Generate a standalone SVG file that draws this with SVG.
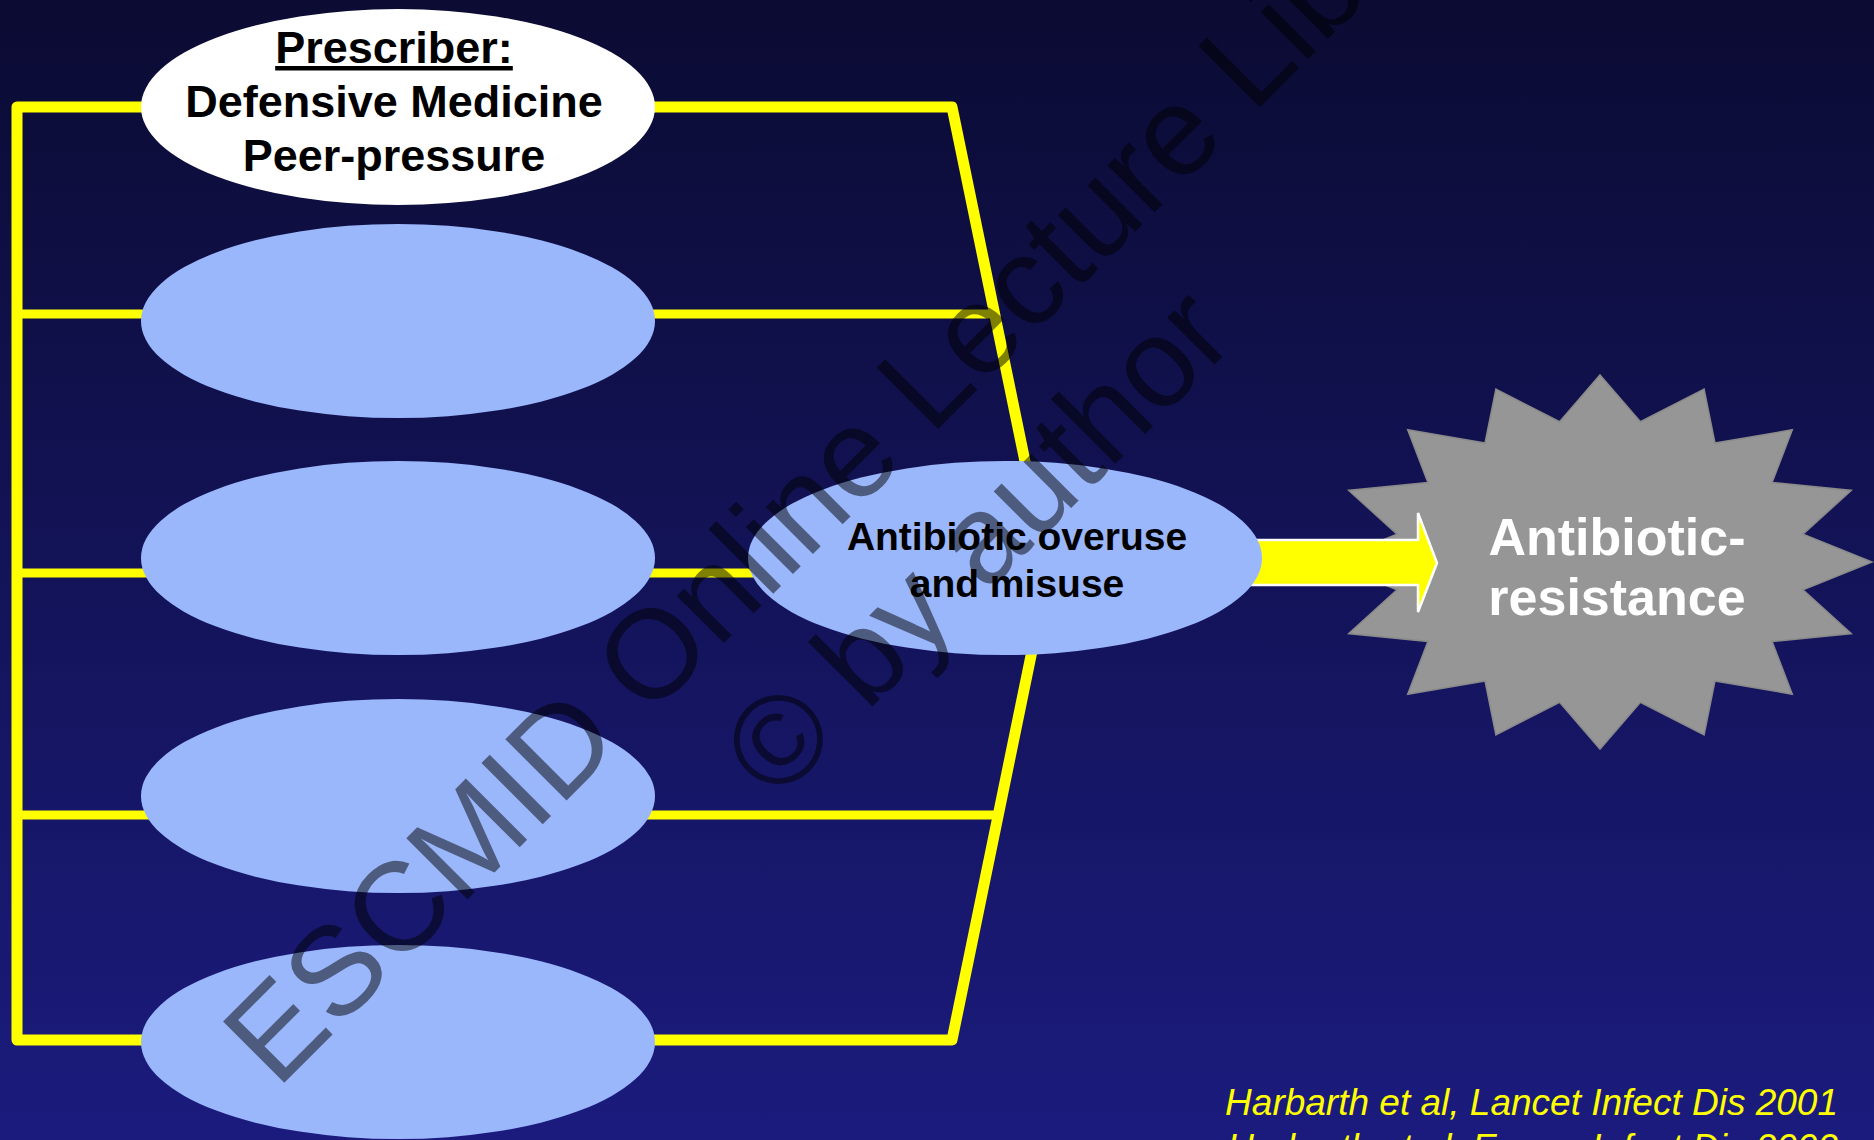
<svg xmlns="http://www.w3.org/2000/svg" width="1874" height="1140" viewBox="0 0 1874 1140">
  <defs>
    <linearGradient id="bg" x1="0" y1="0" x2="0" y2="1">
      <stop offset="0" stop-color="#0b0b33"/>
      <stop offset="1" stop-color="#1b1b7e"/>
    </linearGradient>
    <style>
      .frame { fill: none; stroke: #ffff00; stroke-width: 11; stroke-linejoin: round; stroke-linecap: round; }
      .inner { fill: none; stroke: #ffff00; stroke-width: 9; }
      .blue { fill: #9bb7fc; }
      .white { fill: #ffffff; }
      .lbl { font-family: "Liberation Sans", Arial, sans-serif; font-weight: bold; fill: #000000; text-anchor: middle; }
      .star { fill: #969696; stroke: #8a8a8a; stroke-width: 1.5; stroke-linejoin: miter; }
      .startxt { font-family: "Liberation Sans", Arial, sans-serif; font-weight: bold; fill: #ffffff; text-anchor: middle; font-size: 52px; }
      .cite { font-family: "Liberation Sans", Arial, sans-serif; font-style: italic; fill: #ffff00; text-anchor: end; font-size: 37px; }
      .wm { font-family: "Liberation Sans", Arial, sans-serif; fill: #000000; fill-opacity: 0.5; text-anchor: middle; font-size: 126px; }
    </style>
  </defs>

  <rect x="0" y="0" width="1874" height="1140" fill="url(#bg)"/>

  <g id="connectors">
    <path class="frame" d="M952,107 L17,107 L17,1040 L952,1040 L1048,573 Z"/>
    <line class="inner" x1="17" y1="314" x2="995" y2="314"/>
    <line class="inner" x1="17" y1="573" x2="900" y2="573"/>
    <line class="inner" x1="17" y1="815" x2="997" y2="815"/>
  </g>

  <g id="node-resistance">
    <polygon class="star" points="1600,375 1640.4,421.7 1704.1,389.2 1715,443.1 1792.3,429.8 1772.1,482.5 1851.3,490.4 1803,534.1 1872,562 1803,589.9 1851.3,633.6 1772.1,641.5 1792.3,694.2 1715,680.9 1704.1,734.8 1640.4,702.3 1600,749 1559.6,702.3 1495.9,734.8 1485,680.9 1407.7,694.2 1427.9,641.5 1348.7,633.6 1397,589.9 1328,562 1397,534.1 1348.7,490.4 1427.9,482.5 1407.7,429.8 1485,443.1 1495.9,389.2 1559.6,421.7"/>
    <text class="startxt" x="1617" y="555">Antibiotic-</text>
    <text class="startxt" x="1617" y="615">resistance</text>
  </g>

  <g id="arrow">
    <path d="M1230,540 L1418,540 L1418,513 L1437,563 L1418,612 L1418,585 L1230,585 Z" fill="#ffff00" stroke="#ffffff" stroke-width="2.5" stroke-linejoin="miter"/>
  </g>

  <g id="node-prescriber">
    <ellipse class="white" cx="398" cy="107" rx="257" ry="98"/>
    <text class="lbl" x="394" y="63" font-size="45" text-decoration="underline">Prescriber:</text>
    <text class="lbl" x="394" y="117" font-size="45">Defensive Medicine</text>
    <text class="lbl" x="394" y="171" font-size="45">Peer-pressure</text>
  </g>
  <g id="node-2"><ellipse class="blue" cx="398" cy="321" rx="257" ry="97"/></g>
  <g id="node-3"><ellipse class="blue" cx="398" cy="558" rx="257" ry="97"/></g>
  <g id="node-4"><ellipse class="blue" cx="398" cy="796" rx="257" ry="97"/></g>
  <g id="node-5"><ellipse class="blue" cx="398" cy="1042" rx="257" ry="97"/></g>

  <g id="node-overuse">
    <ellipse class="blue" cx="1005" cy="558" rx="257" ry="97"/>
    <text class="lbl" x="1017" y="550" font-size="39">Antibiotic overuse</text>
    <text class="lbl" x="1017" y="597" font-size="39">and misuse</text>
  </g>

  <g id="citations">
    <text class="cite" x="1838" y="1115">Harbarth et al, Lancet Infect Dis 2001</text>
    <text class="cite" x="1838" y="1160">Harbarth et al, Emerg Infect Dis 2002</text>
  </g>

  <g id="watermark" transform="translate(901,466) rotate(-45)">
    <text class="wm" x="0" y="0">ESCMID Online Lecture Library</text>
    <text class="wm" x="0" y="150">© by author</text>
  </g>
</svg>
